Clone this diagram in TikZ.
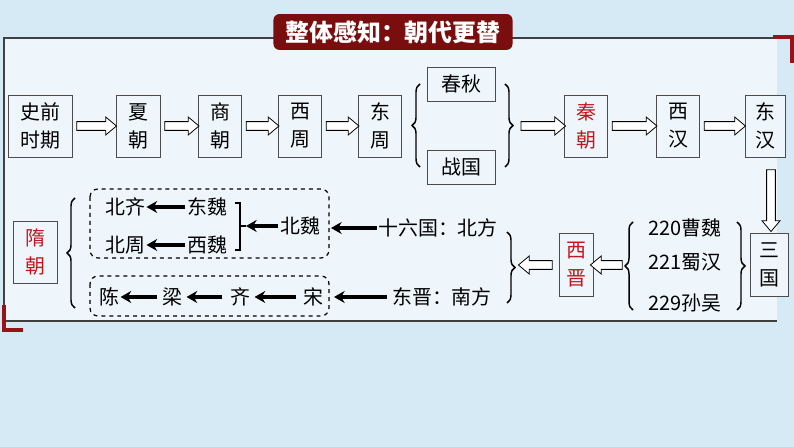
\documentclass[tikz,border=0pt]{standalone}
\usepackage{fontspec}
\setmainfont{Noto Sans CJK SC}
\usetikzlibrary{shapes.arrows,decorations.pathreplacing,arrows.meta,calc}
\definecolor{bgblue}{HTML}{D6EAF5}
\definecolor{panel}{HTML}{EEF6FB}
\definecolor{dred}{HTML}{7A0E0E}
\definecolor{tred}{HTML}{C0171E}
\tikzset{
  box/.style={draw=black!70,fill=panel,align=center,inner sep=0pt,font=\fontsize{15}{21}\selectfont},
  txt/.style={inner sep=1pt,font=\fontsize{15}{18}\selectfont},
  harrow/.style={single arrow,draw=black,fill=white,minimum width=0pt,single arrow head extend=3.5pt,single arrow tip angle=80,inner sep=3pt,line width=0.6pt},
  brc/.style={decorate,decoration={brace,amplitude=6pt},line width=1.1pt},
  barrow/.style={line width=3pt,-{Stealth[length=8pt,width=9pt]}},
  dbox/.style={draw,dashed,rounded corners=6pt,line width=0.9pt}
}
\begin{document}
\begin{tikzpicture}[x=0.0264583cm,y=-0.0264583cm]
\useasboundingbox (0,0) rectangle (794,447);
\fill[bgblue] (0,0) rectangle (794,447);
\fill[panel] (4,38) rectangle (777,321);
\draw[black!75,line width=0.8pt] (777,38) -- (4,38) -- (4,321) -- (777,321);
\fill[tred!80!black] (773,35) rectangle (794,39);
\fill[tred!80!black] (790,35) rectangle (794,63);
\fill[tred!80!black] (2,305) rectangle (6,332);
\fill[tred!80!black] (2,328) rectangle (23,332);
\node[fill=dred,rounded corners=4.5pt,minimum width=180pt,minimum height=27pt,text=white,font=\fontsize{18}{20}\selectfont\bfseries] (title) at (393,32) {整体感知：朝代更替};
% top row
\node[box,minimum width=48pt,minimum height=46.5pt] (sq) at (40,126) {史前\\时期};
\node[box,minimum width=33pt,minimum height=46.5pt] (xia) at (138,126) {夏\\朝};
\node[box,minimum width=32.25pt,minimum height=46.5pt] (shang) at (220,126) {商\\朝};
\node[box,minimum width=32.25pt,minimum height=46.5pt] (xz) at (300,126) {西\\周};
\node[box,minimum width=32.25pt,minimum height=46.5pt] (dz) at (380,126) {东\\周};
\node[box,minimum width=51pt,minimum height=25.5pt] (cq) at (461,84) {春秋};
\node[box,minimum width=51pt,minimum height=25.5pt] (zg) at (461,167) {战国};
\node[box,minimum width=32.25pt,minimum height=46.5pt,text=tred] (qin) at (586,126) {秦\\朝};
\node[box,minimum width=32.25pt,minimum height=46.5pt] (xh) at (678,126) {西\\汉};
\node[box,minimum width=30pt,minimum height=46.5pt] (dh) at (765,126) {东\\汉};
\node[box,minimum width=28.5pt,minimum height=47.25pt] (sg) at (769,265) {三\\国};
\node[box,minimum width=25.5pt,minimum height=47.25pt,text=tred] (xj) at (576,265) {西\\晋};
\node[box,minimum width=33pt,minimum height=46.5pt,text=tred] (sui) at (35,252) {隋\\朝};
% hollow arrows
\foreach \a/\b in {sq/xia,xia/shang,shang/xz,xz/dz,qin/xh,xh/dh}
  \path let \p1=(\a.east),\p2=(\b.west),\n1={veclen(\x2-\x1,0)-3pt} in
    node[harrow,minimum height=\n1] at ($(\p1)!0.5!(\p2)$) {};
\draw[brc] (420,167) -- (420,84);
\draw[brc] (505,84) -- (505,167);
\coordinate (b2tip) at (517,126);
\path let \p1=(b2tip),\p2=(qin.west),\n1={veclen(\x2-\x1,0)-2pt} in node[harrow,minimum height=\n1] at ($(\p1)!0.5!(\p2)$) {};
\node[harrow,shape border rotate=270,minimum height=46.5pt] at (771,198) {};
% second row right
\node[txt] (cw) at (685,228) {220曹魏};
\node[txt] (sh) at (685,262) {221蜀汉};
\node[txt] (sw) at (685,303) {229孙吴};
\draw[brc] (633,310) -- (633,222);
\draw[brc] (737,222) -- (737,310);
\node[harrow,shape border rotate=180,minimum height=24pt] at (609,265) {};
\node[harrow,shape border rotate=180,minimum height=25.5pt] at (538,265) {};
\node[txt] (bf) at (438,228) {十六国：北方};
\node[txt] (nf) at (442,297) {东晋：南方};
\draw[brc] (507,232) -- (507,303);
% dashed boxes
\draw[dbox] (90,189) rectangle (329,258);
\draw[dbox] (90,276) rectangle (329,316);
\node[txt] (bq) at (125,207) {北齐};
\node[txt] (dw) at (207,207) {东魏};
\node[txt] (bz) at (125,245) {北周};
\node[txt] (xw) at (207,245) {西魏};
\node[txt] (bw) at (300,226) {北魏};
\draw[barrow] (dw.west) -- (bq.east);
\draw[barrow] (xw.west) -- (bz.east);
\draw[line width=0.9pt] (235,203) -- (240,203) -- (240,250) -- (235,250);
\coordinate (bt) at (246,226);
\draw[barrow] (bw.west) -- (bt);
\draw[line width=0.9pt] (240,226) -- (246,226);
\coordinate (dbr) at (331,228);
\draw[barrow] (bf.west) -- (dbr);
\node[txt] (chen) at (109,297) {陈};
\node[txt] (liang) at (172,297) {梁};
\node[txt] (qi) at (240,297) {齐};
\node[txt] (song) at (313,297) {宋};
\draw[barrow] ($(liang.west)+(-3,0)$) -- (chen.east);
\draw[barrow] ($(qi.west)+(-6,0)$) -- ($(liang.east)+(3,0)$);
\draw[barrow] ($(song.west)+(-5,0)$) -- ($(qi.east)+(3,0)$);
\coordinate (dbr2) at (334,297);
\draw[barrow] ($(nf.west)+(-4,0)$) -- (dbr2);
\draw[brc] (75,308) -- (75,198);
\end{tikzpicture}
\end{document}
